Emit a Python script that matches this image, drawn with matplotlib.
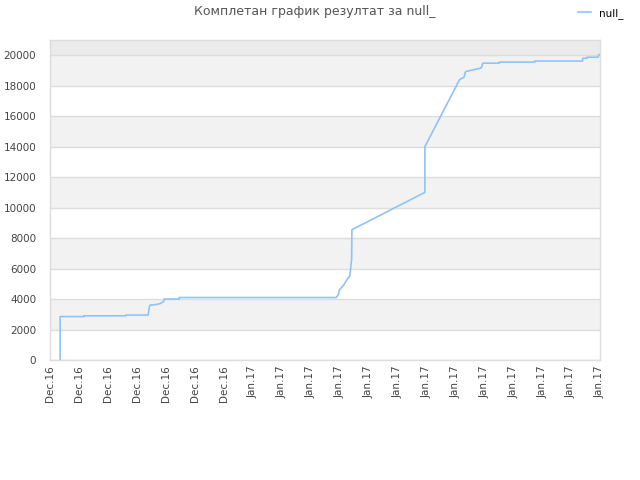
import matplotlib
matplotlib.use("Agg")
import matplotlib.pyplot as plt

plt.rcParams['font.family'] = ['DejaVu Sans']

tick_labels = ["Dec.16"] * 7 + ["Jan.17"] * 13
series_name = "null_"
title = "Комплетан график резултат за null_"

# x in tick-index units, y values
xs = [0.35, 0.35, 1.17, 1.17, 2.62, 2.62, 3.39, 3.42, 3.45, 3.70, 3.80, 3.90, 3.94, 3.94,
      4.46, 4.46, 9.88, 9.95, 10.00, 10.15, 10.25, 10.35, 10.38, 10.42, 10.43,
      12.95, 12.95, 14.15, 14.25, 14.30, 14.35, 14.40, 14.88, 14.92, 14.95, 15.52,
      15.52, 16.75, 16.75, 18.40, 18.40, 18.55, 18.55, 18.93, 18.97]
ys = [0, 2850, 2850, 2900, 2900, 2950, 2950, 3350, 3600, 3650, 3700, 3800, 3900, 4000,
      4000, 4100, 4100, 4250, 4600, 4930, 5250, 5500, 5900, 6600, 8550,
      11000, 14000, 18400, 18500, 18550, 18900, 18950, 19150, 19250, 19480, 19480,
      19550, 19550, 19620, 19620, 19800, 19800, 19870, 19870, 20050]

fig = plt.figure(figsize=(6.4, 4.8), dpi=100)
ax = fig.add_axes([50/640, 120/480, 550/640, 320/480])

ymax = 21000
ax.set_ylim(0, ymax)
ax.set_xlim(0, len(tick_labels) - 1)

# bands
for lo in range(2000, 20000, 4000):
    ax.axhspan(lo, lo + 2000, color='#f2f2f2', zorder=0, lw=0)
ax.axhspan(20000, ymax, color='#ebebeb', zorder=0, lw=0)

ax.set_yticks(range(0, 20001, 2000))
ax.yaxis.grid(True, color='#dddddd', lw=1)
ax.set_axisbelow(True)

ax.plot(xs, ys, color='#90c3f5', lw=1.2, label=series_name, zorder=3)

ax.set_xticks(range(len(tick_labels)))
ax.set_xticklabels(tick_labels, rotation=90, fontsize=7.5, color='#444444')
ax.tick_params(axis='y', labelsize=7.5, colors='#444444', length=0, pad=10)
ax.tick_params(axis='x', length=0, pad=4)

for s in ax.spines.values():
    s.set_color('#dddddd')
    s.set_linewidth(1)

fig.text(315/640, 1 - 12/480, title, ha='center', va='center', fontsize=9, color='#555555')
ax.legend(loc='upper right', bbox_to_anchor=(1.06, 1.13), frameon=False, fontsize=7.5,
          handlelength=1.2, handletextpad=0.8)

fig.savefig("out.png", dpi=100)
